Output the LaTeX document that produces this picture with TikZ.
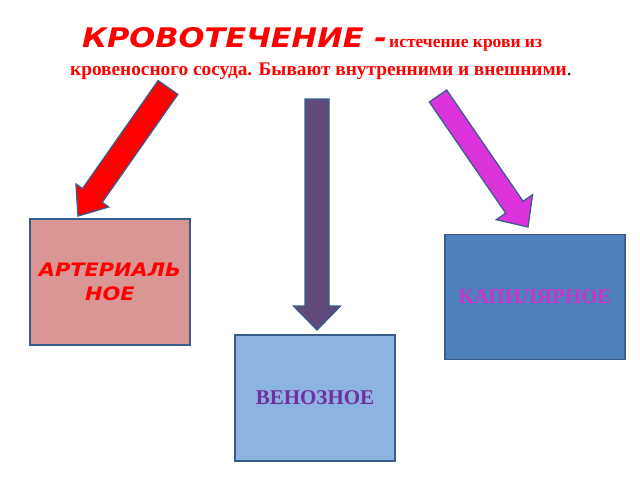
\documentclass[tikz,border=0pt]{standalone}
\usepackage{fontspec}
\setmainfont{Liberation Serif}
\newfontfamily\headfont[FakeStretch=1.13]{DejaVu Sans}
\usetikzlibrary{calc}

\definecolor{artfill}{HTML}{D99694}
\definecolor{capfill}{HTML}{4F81BD}
\definecolor{venfill}{HTML}{8DB3E2}
\definecolor{edge}{HTML}{385D8A}
\definecolor{mag}{HTML}{DD33DD}
\definecolor{capfont}{HTML}{CC33CC}
\definecolor{venfont}{HTML}{7030A0}
\definecolor{purp}{HTML}{604A7B}

% block arrow: style, from, to, half shaft, half head, head length
\newcommand\fatarrow[6]{%
	\coordinate (hb) at ($(#3)!#6!(#2)$);
	\filldraw[#1] ($(#2)!#4!90:(#3)$) -- ($(hb)!#4!90:(#3)$) -- ($(hb)!#5!90:(#3)$) -- (#3)
		-- ($(hb)!#5!-90:(#3)$) -- ($(hb)!#4!-90:(#3)$) -- ($(#2)!#4!-90:(#3)$) -- cycle;
}

\begin{document}
\begin{tikzpicture}[x=1pt,y=-1pt,line join=miter,
	box/.style={draw=edge,line width=1.2pt,inner sep=0pt,minimum width=#1},
	kind/.style={font=\fontsize{21}{24}\selectfont\bfseries},
	blk/.style={draw=edge,line width=1.3pt}]
	\useasboundingbox (0,0) rectangle (640,480);

	% title
	\node[anchor=base west,inner sep=0pt,text=red] (head) at (82,47) {\headfont\bfseries\itshape\fontsize{27}{30}\selectfont КРОВОТЕЧЕНИЕ -};
	\node[anchor=base west,inner sep=0pt,text=red,font=\fontsize{17.5}{20}\selectfont\bfseries] (head2) at (389,47) {истечение крови из};
	\node[anchor=base west,inner sep=0pt,font=\fontsize{19.3}{22}\selectfont\bfseries] (sub) at (70,75) {\textcolor{red}{кровеносного сосуда. Бывают внутренними и внешними}\mdseries.};

	% kinds
	\node[box=160pt,minimum height=126pt,fill=artfill,align=center,text=red,
		font=\headfont\bfseries\itshape\fontsize{18.5}{24}\selectfont] (art) at (110,282) {АРТЕРИАЛЬ\\НОЕ};
	\node[box=180pt,minimum height=125pt,fill=capfill,text=capfont,kind] (cap) at (535,297) {КАПИЛЯРНОЕ};
	\node[box=160pt,minimum height=126pt,fill=venfill,text=venfont,kind] (ven) at (315,398) {ВЕНОЗНОЕ};

	\coordinate (t1) at (168,87.5);
	\coordinate (e1) at (78,216);
	\coordinate (t2) at (317,99);
	\coordinate (e2) at (317,330);
	\coordinate (t3) at (438,96);
	\coordinate (e3) at (528,227);

	\fatarrow{fill=red,blk}{t1}{e1}{12pt}{20pt}{25pt}
	\fatarrow{fill=purp,blk}{t2}{e2}{12pt}{23.5pt}{24pt}
	\fatarrow{fill=mag,blk}{t3}{e3}{10.5pt}{22pt}{24pt}
\end{tikzpicture}
\end{document}
